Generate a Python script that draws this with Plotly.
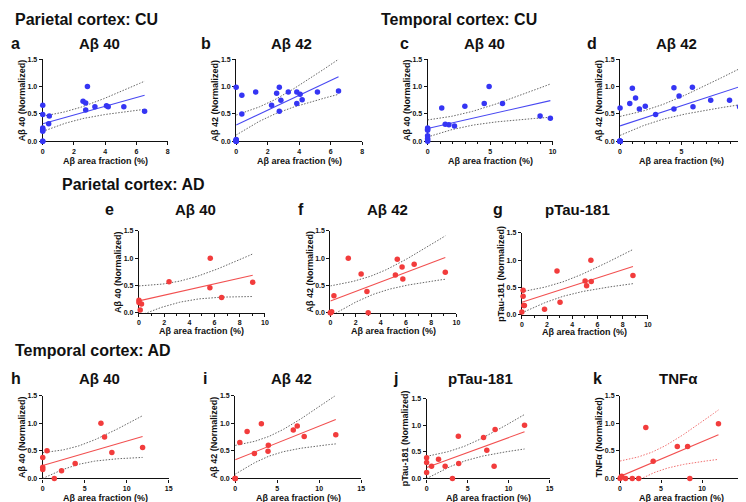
import math
import numpy as np
import plotly.graph_objects as go

W, H = 746, 502
FONT = "Liberation Sans, Arial, sans-serif"

# ---------------- data ----------------
# a: Parietal cortex CU, Abeta 40
a_x = [0, 0, 0, 0, 0, 0, 0, 0, 0.42, 0.38, 2.58, 2.75, 2.86, 2.75, 3.34, 4.08, 4.19, 5.19, 6.52]
a_y = [0.66, 0.49, 0.24, 0.22, 0.20, 0.18, 0.0, 0.0, 0.46, 0.32, 0.73, 0.70, 1.0, 0.57, 0.63, 0.65, 0.63, 0.63, 0.55]
# b: Parietal cortex CU, Abeta 42
b_x = [0, 0, 0, 0, 0, 0, 0, 0, 0.36, 0.36, 1.24, 2.25, 2.57, 2.74, 2.84, 2.74, 3.31, 3.85, 3.85, 4.06, 4.19, 5.16, 6.5]
b_y = [0, 0, 0.01, 0.02, 0, 0.03, 0.01, 0.99, 0.84, 0.5, 0.9, 0.66, 0.88, 0.99, 0.75, 0.55, 0.9, 0.9, 0.69, 0.86, 0.76, 0.9, 0.92]
# c: Temporal cortex CU, Abeta 40
c_x = [0, 0, 0, 0, 0, 0, 0, 1.13, 1.41, 1.70, 2.15, 2.98, 4.53, 4.92, 5.99, 9.0, 9.82]
c_y = [0.24, 0.22, 0.20, 0.10, 0.05, 0.02, 0.0, 0.61, 0.31, 0.30, 0.28, 0.64, 0.69, 1.0, 0.69, 0.46, 0.42]
# d: Temporal cortex CU, Abeta 42
d_x = [0, 0, 0, 0, 0, 0, 0, 0, 0, 0.79, 1.0, 1.26, 1.57, 2.05, 2.89, 4.38, 4.38, 4.80, 5.88, 5.93, 7.37, 8.90, 9.71]
d_y = [0, 0, 0, 0, 0, 0, 0, 0, 0.61, 0.69, 0.97, 0.79, 0.59, 0.64, 0.49, 0.98, 0.59, 0.83, 0.99, 0.63, 0.75, 0.75, 0.63]
# e: Parietal cortex AD, Abeta 40
e_x = [0, 0, 0.2, 0.1, 2.39, 5.66, 5.63, 6.56, 9.03]
e_y = [0.23, 0.19, 0.16, 0.05, 0.57, 1.0, 0.46, 0.28, 0.56]
# f: Parietal cortex AD, Abeta 42
f_x = [0, 0, 0.1, 3.0, 0.28, 1.42, 2.44, 2.9, 5.31, 5.16, 5.69, 5.75, 6.65, 9.12]
f_y = [0, 0, 0.02, 0.0, 0.31, 1.0, 0.71, 0.39, 0.98, 0.69, 0.84, 0.62, 0.89, 0.74]
# g: Parietal cortex AD, pTau-181
g_x = [0, 0.1, 0.1, 0.15, 0.2, 1.8, 2.79, 3.03, 5.02, 5.14, 5.48, 5.51, 8.82]
g_y = [0.05, 0.45, 0.34, 0.17, 0.17, 0.1, 0.8, 0.23, 0.62, 0.53, 1.0, 0.61, 0.72]
# h: Temporal cortex AD, Abeta 40
h_x = [0, 0, 0, 0.51, 1.38, 2.24, 3.86, 6.93, 7.36, 8.23, 11.89]
h_y = [0.38, 0.2, 0.16, 0.5, 0, 0.14, 0.27, 1.0, 0.75, 0.47, 0.56]
# i: Temporal cortex AD, Abeta 42
i_x = [0, 0, 0, 0.55, 1.42, 2.29, 3.12, 3.91, 3.95, 6.92, 7.39, 8.22, 11.98]
i_y = [0, 0, 0, 0.65, 0.85, 0.45, 0.99, 0.49, 0.6, 0.875, 0.95, 0.76, 0.79]
# j: Temporal cortex AD, pTau-181
j_x = [0, 0, 0, 0.6, 1.45, 2.26, 3.15, 3.87, 3.91, 6.94, 7.34, 8.23, 8.35, 11.94]
j_y = [0.39, 0.3, 0.11, 0.23, 0.36, 0.23, 0.0, 0.79, 0.28, 0.77, 0.53, 0.23, 0.92, 1.0]
# k: Temporal cortex AD, TNFa
k_x = [0, 0.1, 0.2, 0.67, 1.49, 2.27, 3.14, 4.04, 6.98, 8.24, 8.51, 12.0]
k_y = [0, 0.02, 0.04, 0, 0, 0, 0.92, 0.31, 0.58, 0.58, 0.0, 0.99]

y_ticks = [0, 0.5, 1.0, 1.5]
y_tick_text = ["0.0", "0.5", "1.0", "1.5"]
x_title = "Aβ area fraction (%)"

BLUE, BLUE_L = "#3535f4", "#4848f2"
RED, RED_L = "#f23c3c", "#f25050"
GRAY = "#666666"


def t975(df):
    z = 1.959963985
    g1 = (z**3 + z) / 4
    g2 = (5 * z**5 + 16 * z**3 + 3 * z) / 96
    g3 = (3 * z**7 + 19 * z**5 + 17 * z**3 - 15 * z) / 384
    g4 = (79 * z**9 + 776 * z**7 + 1482 * z**5 - 1920 * z**3 - 945 * z) / 92160
    return z + g1 / df + g2 / df**2 + g3 / df**3 + g4 / df**4


def fit(xs, ys):
    x = np.asarray(xs, float)
    y = np.asarray(ys, float)
    n = len(x)
    slope, icpt = np.polyfit(x, y, 1)
    mx = x.mean()
    sxx = ((x - mx) ** 2).sum()
    resid = y - (icpt + slope * x)
    s = math.sqrt((resid**2).sum() / (n - 2))
    t = t975(n - 2)
    xx = np.linspace(x.min(), x.max(), 80)
    yy = icpt + slope * xx
    hw = t * s * np.sqrt(1 / n + (xx - mx) ** 2 / sxx)
    return xx, yy, yy - hw, yy + hw


# panel definitions: geometry in px (left, right, top(1.5), bottom(0)), x-title y
panels = [
    dict(L="a", T="Aβ 40", yl="Aβ 40 (Normalized)", x=a_x, y=a_y, xmax=8, dt=2, minor=None, col="b",
         g=(33, 159, 48, 131), xt=151, lp=(6, 32), tp=(90, 32)),
    dict(L="b", T="Aβ 42", yl="Aβ 42 (Normalized)", x=b_x, y=b_y, xmax=8, dt=2, minor=None, col="b",
         g=(228, 355, 48, 131), xt=151, lp=(198, 32), tp=(284, 32)),
    dict(L="c", T="Aβ 40", yl="Aβ 40 (Normalized)", x=c_x, y=c_y, xmax=10, dt=5, minor=1, col="b",
         g=(421, 547, 48, 131), xt=151, lp=(398, 32), tp=(478, 32)),
    dict(L="d", T="Aβ 42", yl="Aβ 42 (Normalized)", x=d_x, y=d_y, xmax=10, dt=5, minor=1, col="b",
         g=(615, 739, 48, 131), xt=151, lp=(587, 32), tp=(672, 32)),
    dict(L="e", T="Aβ 40", yl="Aβ 40 (Normalized)", x=e_x, y=e_y, xmax=10, dt=2, minor=1, col="r",
         g=(130, 257, 222, 305), xt=324, lp=(100, 200), tp=(187, 200)),
    dict(L="f", T="Aβ 42", yl="Aβ 42 (Normalized)", x=f_x, y=f_y, xmax=10, dt=2, minor=1, col="r",
         g=(323, 450, 222, 305), xt=324, lp=(293, 200), tp=(381, 200)),
    dict(L="g", T="pTau-181", yl="pTau-181 (Normalized)", x=g_x, y=g_y, xmax=10, dt=2, minor=1, col="r",
         g=(516, 643, 224, 307), xt=325, lp=(492, 200), tp=(572, 200)),
    dict(L="h", T="Aβ 40", yl="Aβ 40 (Normalized)", x=h_x, y=h_y, xmax=15, dt=5, minor=None, col="r",
         g=(33, 160, 389, 473), xt=493, lp=(6, 372), tp=(90, 372)),
    dict(L="i", T="Aβ 42", yl="Aβ 42 (Normalized)", x=i_x, y=i_y, xmax=15, dt=5, minor=None, col="r",
         g=(227, 354, 389, 473), xt=493, lp=(197, 372), tp=(284, 372)),
    dict(L="j", T="pTau-181", yl="pTau-181 (Normalized)", x=j_x, y=j_y, xmax=15, dt=5, minor=None, col="r",
         g=(420, 544, 392, 473), xt=493, lp=(389, 372), tp=(474, 372)),
    dict(L="k", T="TNFα", yl="TNFα (Normalized)", x=k_x, y=k_y, xmax=15, dt=5, minor=None, col="r",
         g=(615, 739, 389, 473), xt=493, lp=(592, 372), tp=(674, 372), redband=True),
]

headers = [
    ("Parietal cortex: CU", 3, 8),
    ("Temporal cortex: CU", 372, 8),
    ("Parietal cortex: AD", 50, 175),
    ("Temporal cortex: AD", 3, 343),
]


def fx(px):
    return px / W


def fy(py):
    return 1 - py / H


fig = go.Figure()
layout = dict(width=W, height=H, margin=dict(l=0, r=0, t=0, b=0),
              paper_bgcolor="white", plot_bgcolor="white", showlegend=False,
              font=dict(family=FONT, color="#111"))
annotations = []

for idx, p in enumerate(panels, start=1):
    sfx = "" if idx == 1 else str(idx)
    L, R, T, B = p["g"]
    mcol = BLUE if p["col"] == "b" else RED
    lcol = BLUE_L if p["col"] == "b" else RED_L
    bcol = "#f07070" if p.get("redband") else GRAY
    xx, yy, lo, hi = fit(p["x"], p["y"])
    xa, ya = "x" + sfx, "y" + sfx
    for band in (lo, hi):
        fig.add_trace(go.Scatter(x=xx, y=band, mode="lines", xaxis=xa, yaxis=ya,
                                 line=dict(color=bcol, width=1, dash="1.5px,1.5px"),
                                 cliponaxis=False, hoverinfo="skip"))
    fig.add_trace(go.Scatter(x=xx, y=yy, mode="lines", xaxis=xa, yaxis=ya,
                             line=dict(color=lcol, width=1.1), cliponaxis=False, hoverinfo="skip"))
    fig.add_trace(go.Scatter(x=p["x"], y=p["y"], mode="markers", xaxis=xa, yaxis=ya,
                             marker=dict(color=mcol, size=5.5, line=dict(width=0)),
                             cliponaxis=False))
    xax = dict(domain=[fx(L), fx(R)], range=[0, p["xmax"]], anchor=ya,
               showline=True, linecolor="#111", linewidth=1.2, showgrid=False, zeroline=False,
               ticks="outside", ticklen=3, tickwidth=1, tickcolor="#111", dtick=p["dt"], tick0=0,
               tickfont=dict(size=7, family=FONT, color="#111", weight="bold"), layer="below traces")
    if p["minor"]:
        xax["minor"] = dict(ticks="outside", dtick=p["minor"], ticklen=2, tickcolor="#111", tickwidth=1)
    yax = dict(domain=[fy(B), fy(T)], range=[0, 1.5], anchor=xa,
               showline=True, linecolor="#111", linewidth=1.2, showgrid=False, zeroline=False,
               ticks="outside", ticklen=3, tickwidth=1, tickcolor="#111",
               tickvals=y_ticks, ticktext=y_tick_text,
               tickfont=dict(size=7, family=FONT, color="#111", weight="bold"), layer="below traces")
    layout["xaxis" + sfx] = xax
    layout["yaxis" + sfx] = yax

    # panel letter and title
    annotations.append(dict(text=p["L"], x=fx(p["lp"][0]), y=fy(p["lp"][1]), xref="paper", yref="paper",
                            showarrow=False, xanchor="center", yanchor="middle",
                            font=dict(size=16, family=FONT, color="#111", weight="bold")))
    annotations.append(dict(text=p["T"], x=fx(p["tp"][0]), y=fy(p["tp"][1]), xref="paper", yref="paper",
                            showarrow=False, xanchor="center", yanchor="middle",
                            font=dict(size=15, family=FONT, color="#111", weight="bold")))
    # axis titles
    annotations.append(dict(text=p["yl"], x=fx(L - 21), y=fy((T + B) / 2), xref="paper", yref="paper",
                            showarrow=False, xanchor="center", yanchor="middle", textangle=-90,
                            font=dict(size=9, family=FONT, color="#111", weight="bold")))
    annotations.append(dict(text=x_title, x=fx((L + R) / 2), y=fy(p["xt"]), xref="paper", yref="paper",
                            showarrow=False, xanchor="center", yanchor="middle",
                            font=dict(size=9, family=FONT, color="#111", weight="bold")))

for text, hx, hy in headers:
    annotations.append(dict(text=text, x=fx(hx), y=fy(hy), xref="paper", yref="paper",
                            showarrow=False, xanchor="left", yanchor="middle",
                            font=dict(size=16, family=FONT, color="#111", weight="bold")))

layout["annotations"] = annotations
fig.update_layout(**layout)
fig.write_html("out.html")
